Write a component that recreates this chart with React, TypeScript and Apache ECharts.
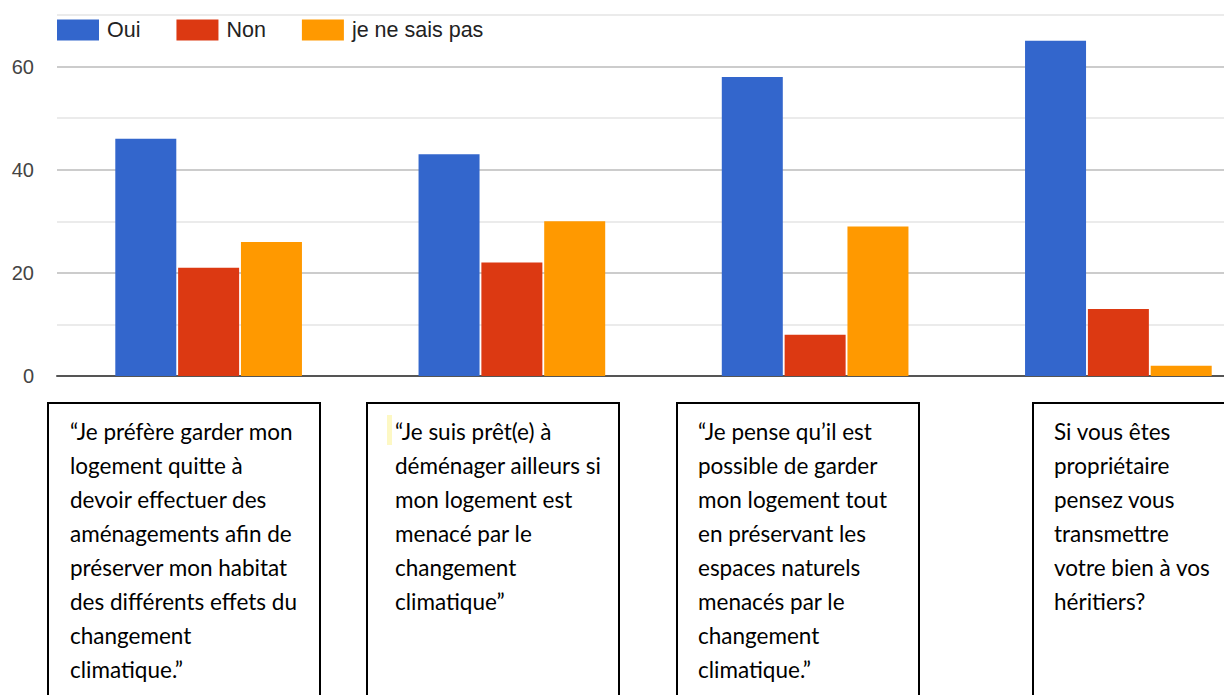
import React, { useEffect, useRef } from "react";
import * as echarts from "echarts";

const categories = ["Q1", "Q2", "Q3", "Q4"];
const seriesNames = ["Oui", "Non", "je ne sais pas"];
const ouiValues = [46, 43, 58, 65];
const nonValues = [21, 22, 8, 13];
const nspValues = [26, 30, 29, 2];
const yTickLabels = [0, 20, 40, 60];
const boxTexts = [
  "“Je préfère garder mon\nlogement quitte à\ndevoir effectuer des\naménagements afin de\npréserver mon habitat\ndes différents effets du\nchangement\nclimatique.”",
  "“Je suis prêt(e) à\ndéménager ailleurs si\nmon logement est\nmenacé par le\nchangement\nclimatique”",
  "“Je pense qu’il est\npossible de garder\nmon logement tout\nen préservant les\nespaces naturels\nmenacés par le\nchangement\nclimatique.”",
  "Si vous êtes\npropriétaire\npensez vous\ntransmettre\nvotre bien à vos\nhéritiers?",
];

const colors = ["#3366cc", "#dc3912", "#ff9900"];
const boxLeft = [48, 367, 677, 1033];
const boxRight = [320, 619, 919, 1290];
const textLeft = [70, 395, 698, 1054];

export default function App() {
  const ref = useRef<HTMLDivElement>(null);
  useEffect(() => {
    if (!ref.current) return;
    const chart = echarts.init(ref.current, null, { renderer: "svg" });
    const graphics: any[] = [];
    boxTexts.forEach((t, i) => {
      graphics.push({
        type: "rect",
        shape: { x: boxLeft[i], y: 403, width: boxRight[i] - boxLeft[i], height: 320 },
        style: { fill: "#fff", stroke: "#000", lineWidth: 2 },
        z: 10,
      });
      graphics.push({
        type: "text",
        x: textLeft[i],
        y: 414,
        style: {
          text: t,
          font: '22.5px "Lato", "Carlito", sans-serif',
          fill: "#000",
          lineHeight: 34,
          verticalAlign: "top",
        },
        z: 11,
      });
    });
    graphics.push({
      type: "rect",
      shape: { x: 387, y: 415, width: 5, height: 30 },
      style: { fill: "#fdf8c4" },
      z: 12,
    });
    const data = [ouiValues, nonValues, nspValues];
    chart.setOption({
      animation: false,
      backgroundColor: "#fff",
      color: colors,
      legend: {
        left: 52,
        top: 14,
        itemWidth: 42,
        itemHeight: 21,
        itemGap: 36,
        icon: "rect",
        textStyle: {
          fontFamily: '"Liberation Sans", Arial, sans-serif',
          fontSize: 21.5,
          color: "#222",
          padding: [0, 0, 0, 3],
        },
        data: seriesNames,
      },
      grid: { left: 57, top: 15, right: 0, height: 361 },
      xAxis: {
        type: "category",
        data: categories,
        axisLine: { show: true, lineStyle: { color: "#555", width: 2 } },
        axisTick: { show: false },
        axisLabel: { show: false },
        splitLine: { show: false },
      },
      yAxis: {
        type: "value",
        min: 0,
        max: 70,
        interval: 10,
        axisLine: { show: false },
        axisTick: { show: false },
        axisLabel: {
          margin: 23,
          fontFamily: '"Liberation Sans", Arial, sans-serif',
          fontSize: 20,
          color: "#444",
          formatter: (v: number) => (yTickLabels.includes(v) ? String(v) : ""),
        },
        splitLine: { lineStyle: { color: ["#cccccc", "#ebebeb"], width: 2 } },
      },
      series: seriesNames.map((n, i) => ({
        name: n,
        type: "bar",
        data: data[i],
        barWidth: 61,
        barGap: "3%",
        itemStyle: { color: colors[i] },
      })),
      graphic: graphics,
    });
    return () => chart.dispose();
  }, []);
  return (
    <div style={{ position: "fixed", left: 0, top: 0, width: 1224, height: 695, overflow: "hidden", background: "#fff" }}>
      <div ref={ref} style={{ width: 1270, height: 695 }} />
    </div>
  );
}
